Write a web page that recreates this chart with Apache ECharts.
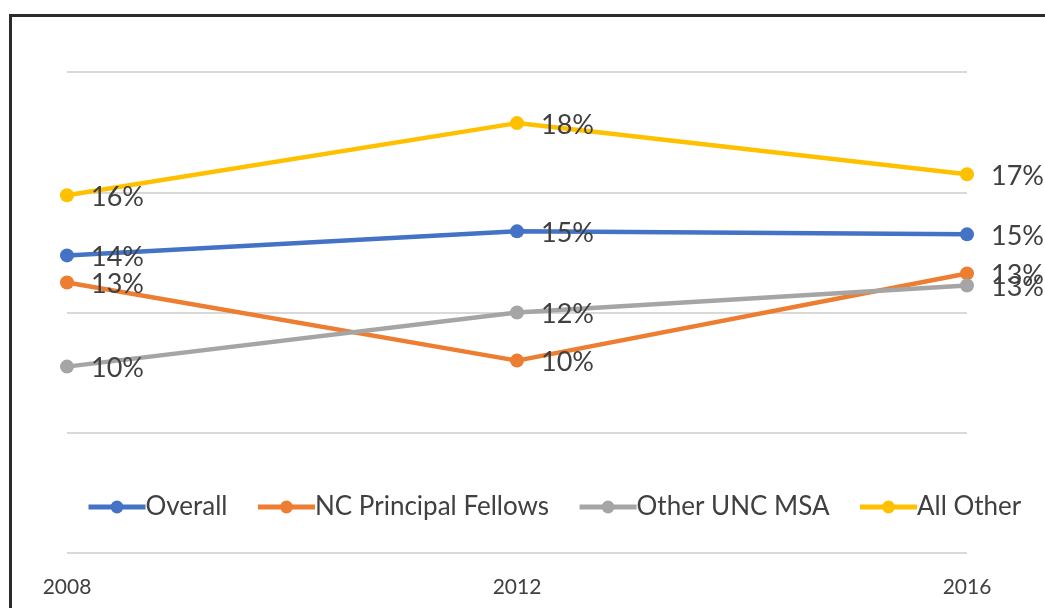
<!DOCTYPE html>
<html><head><meta charset="utf-8">
<script src="https://cdn.jsdelivr.net/npm/echarts@6/dist/echarts.min.js"></script>
<style>html,body{margin:0;padding:0;background:#fff}#c{width:1045px;height:608px}</style>
</head><body><div id="c"></div>
<script>
const years = ['2008', '2012', '2016'];
const overall = [13.9, 14.7, 14.6];
const ncFellows = [13.0, 10.4, 13.3];
const otherUnc = [10.2, 12.0, 12.9];
const allOther = [15.9, 18.3, 16.6];
const seriesNames = ['Overall', 'NC Principal Fellows', 'Other UNC MSA', 'All Other'];
const colors = ['#4472C4', '#ED7D31', '#A5A5A5', '#FFC000'];
const dataSets = [overall, ncFellows, otherUnc, allOther];

const chart = echarts.init(document.getElementById('c'));
chart.setOption({
  animation: false,
  backgroundColor: '#fff',
  color: colors,
  graphic: [{
    type: 'rect', silent: true,
    shape: {x: 10.5, y: 15.5, width: 1100, height: 700},
    style: {fill: 'none', stroke: '#2b2b2b', lineWidth: 3}
  }],
  grid: {left: 67, right: 78, top: 72, bottom: 55},
  legend: {
    left: 86, top: 494, width: 1000, padding: 0,
    itemWidth: 57, itemHeight: 16, itemGap: 28,
    lineStyle: {width: 5},
    textStyle: {fontFamily: 'Lato', fontSize: 26, color: '#404040', padding: [0, 0, 0, -5]},
    data: seriesNames
  },
  xAxis: {
    type: 'category', data: years, boundaryGap: false,
    axisLine: {show: false}, axisTick: {show: false},
    axisLabel: {fontFamily: 'Lato', fontSize: 21, color: '#404040', margin: 24}
  },
  yAxis: {
    type: 'value', min: 4, max: 20, interval: 4,
    axisLabel: {show: false}, axisLine: {show: false}, axisTick: {show: false},
    splitLine: {lineStyle: {color: '#d9d9d9', width: 2}}
  },
  series: dataSets.map((d, i) => ({
    name: seriesNames[i], type: 'line', data: d,
    symbol: 'circle', symbolSize: 14,
    lineStyle: {width: 4.5, color: colors[i]},
    itemStyle: {color: colors[i]},
    label: {
      show: true, position: 'right', distance: 17, offset: [0, 2],
      fontFamily: 'Lato', fontSize: 27, color: '#404040',
      formatter: p => Math.round(p.value) + '%'
    }
  }))
});
</script></body></html>
